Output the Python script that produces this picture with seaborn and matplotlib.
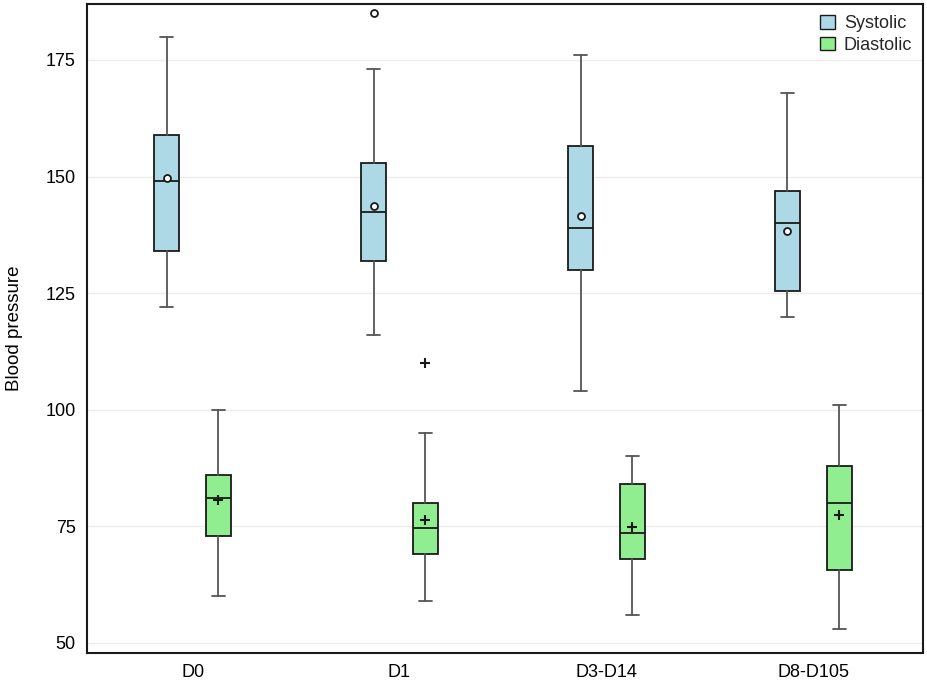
import matplotlib
matplotlib.use("Agg")
import matplotlib.pyplot as plt
from matplotlib.patches import Patch
import seaborn as sns

# --- Values ---
periods = ["D0", "D1", "D3-D14", "D8-D105"]

sys_whislo = [122, 116, 104, 120]
sys_q1 = [134, 132, 130, 125.5]
sys_med = [149, 142.4, 139, 140]
sys_mean = [149.6, 143.7, 141.6, 138.4]
sys_q3 = [159, 153, 156.5, 147]
sys_whishi = [180, 173, 176, 168]
sys_fliers = [[], [185], [], []]

dia_whislo = [60, 59, 56, 53]
dia_q1 = [73, 69, 68, 65.6]
dia_med = [81.1, 74.6, 73.6, 80]
dia_mean = [80.6, 76.3, 74.8, 77.5]
dia_q3 = [86, 80, 84, 88]
dia_whishi = [100, 95, 90, 101]
dia_fliers = [[], [110], [], []]

sys_color = "#add8e6"
dia_color = "#90ee90"

sns.set_theme(style="whitegrid")
plt.rcParams["font.family"] = ["Liberation Sans", "DejaVu Sans"]


def make_stats(lo, q1, med, mean, q3, hi, fl):
    return [
        {"whislo": a, "q1": b, "med": c, "mean": d, "q3": e, "whishi": f, "fliers": g}
        for a, b, c, d, e, f, g in zip(lo, q1, med, mean, q3, hi, fl)
    ]


fig = plt.figure(figsize=(9.27, 6.83), dpi=100)
ax = fig.add_axes([0.0939, 0.0439, 0.9018, 0.9502])

groups = [
    (make_stats(sys_whislo, sys_q1, sys_med, sys_mean, sys_q3, sys_whishi, sys_fliers), -0.125, sys_color, "o"),
    (make_stats(dia_whislo, dia_q1, dia_med, dia_mean, dia_q3, dia_whishi, dia_fliers), 0.125, dia_color, "P"),
]

for stats, off, color, mk in groups:
    pos = [i + off for i in range(len(periods))]
    if mk == "o":
        mean_kw = dict(marker="o", markersize=5, markerfacecolor="white",
                       markeredgecolor="#1a1a1a", markeredgewidth=1.3)
        flier_kw = dict(marker="o", markersize=5, markerfacecolor="white",
                        markeredgecolor="#1a1a1a", markeredgewidth=1.3)
    else:
        mean_kw = dict(marker="+", markersize=7, markeredgecolor="#1a1a1a", markeredgewidth=1.5)
        flier_kw = dict(marker="+", markersize=7, markeredgecolor="#1a1a1a", markeredgewidth=1.5)
    ax.bxp(stats, positions=pos, widths=0.122, patch_artist=True, showmeans=True,
           boxprops=dict(facecolor=color, edgecolor="#1a1a1a", linewidth=1.3),
           medianprops=dict(color="#1a1a1a", linewidth=1.3),
           whiskerprops=dict(color="#555555", linewidth=1.3),
           capprops=dict(color="#555555", linewidth=1.3),
           meanprops=mean_kw, flierprops=flier_kw, manage_ticks=False)

ax.set_xlim(-0.51, 3.53)
ax.set_ylim(47.85, 187)
ax.set_xticks(range(len(periods)))
ax.set_xticklabels(periods)
ax.set_yticks([50, 75, 100, 125, 150, 175])
ax.set_ylabel("Blood pressure", fontsize=13.5, color="black", labelpad=16)
ax.tick_params(axis="both", labelsize=13, colors="black", length=0, pad=8)
ax.xaxis.grid(False)
ax.yaxis.grid(True, color="#ececec", linewidth=1)
for s in ax.spines.values():
    s.set_edgecolor("#1a1a1a")
    s.set_linewidth(1.5)

handles = [Patch(facecolor=sys_color, edgecolor="#1a1a1a", label="Systolic"),
           Patch(facecolor=dia_color, edgecolor="#1a1a1a", label="Diastolic")]
ax.legend(handles=handles, loc="upper right", frameon=False, fontsize=13,
          handlelength=0.8, handleheight=0.8, handletextpad=0.5,
          borderaxespad=0.2, labelspacing=0.25)

fig.savefig("out.png", dpi=100)
